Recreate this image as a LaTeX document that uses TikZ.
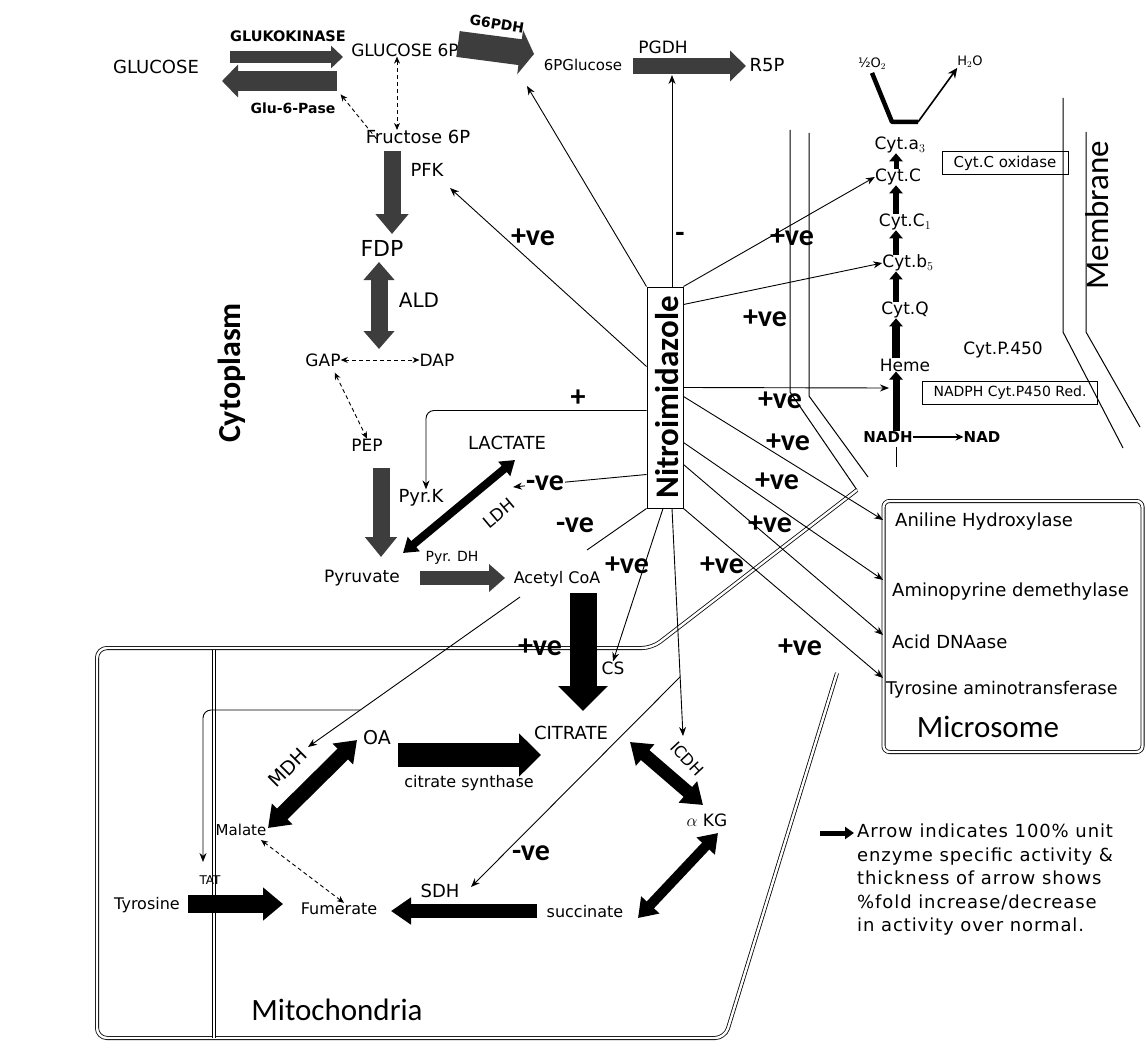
\documentclass[tikz,border=0pt]{standalone}
\usepackage{fontspec}
\setmainfont{DejaVu Sans}
\newfontfamily\carl{Carlito}
\usetikzlibrary{arrows.meta,calc}
\newcommand{\fsz}[1]{\fontsize{#1}{#1}\selectfont}
\definecolor{dg}{gray}{0.24}
\begin{document}
\begin{tikzpicture}[x=1pt,y=-1pt,
  lab/.style={inner sep=0pt, font=\fsz{17}},
  pm/.style={inner sep=0pt, font=\carl\bfseries\fsz{30}},
  big/.style={inner sep=0pt, font=\carl\fsz{31}},
  con/.style={line width=0.9pt, -{Stealth[length=9pt,width=7pt]}},
  conn/.style={line width=0.9pt},
  dsh/.style={line width=0.9pt, dash pattern=on 4pt off 3pt, {Stealth[length=7pt,width=6pt]}-{Stealth[length=7pt,width=6pt]}},
  blk/.style n args={3}{line width=#1pt, -{Triangle[length=#3pt,width=#2pt]}},
  dblk/.style n args={3}{line width=#1pt, {Triangle[length=#3pt,width=#2pt]}-{Triangle[length=#3pt,width=#2pt]}},
  dbl/.style={draw, line width=0.8pt, double=white, double distance=2.4pt, rounded corners=10pt},
  mem/.style={line width=1pt},
  chn/.style={line width=#1pt, -{Triangle[length=8pt,width=13pt]}}
]
\fill[white] (0,0) rectangle (1147,1051);
\useasboundingbox (0,0) rectangle (1147,1051);

% ---------- membranes and compartments ----------
\draw[mem] (790,130) -- (790,392) -- (857,490);
\draw[mem] (809,133) -- (809,396) -- (868,477);
\draw[mem] (1063,98) -- (1063,332) -- (1123,448);
\draw[mem] (1086,132) -- (1086,332) -- (1140,427);
\draw[dbl] (857,490) -- (652,648) -- (97,648) -- (97,1038) -- (725,1038) -- (837,673);
\draw[dbl,sharp corners] (214,650) -- (214,1038);
\node[draw, line width=0.8pt, double=white, double distance=2.4pt, rounded corners=6pt,
      minimum width=259pt, minimum height=251pt, inner sep=0pt] (micro) at (1013,626.5) {};

% ---------- glycolysis / pentose labels ----------
\node[lab,font=\fsz{18}] (glc) at (156,67) {GLUCOSE};
\node[lab,font=\bfseries\fsz{14.5}] (gk) at (288,36) {GLUKOKINASE};
\node[lab] (g6p) at (405,50) {GLUCOSE 6P};
\node[lab,font=\bfseries\fsz{14}] (g6pase) at (293,108) {Glu-6-Pase};
\node[lab,font=\fsz{18}] (f6p) at (418,137) {Fructose 6P};
\node[lab,font=\fsz{18}] (pfk) at (427,170) {PFK};
\node[lab,font=\fsz{22}] (fdp) at (382,248) {FDP};
\node[lab,font=\fsz{20}] (ald) at (419,300) {ALD};
\node[lab] (gap) at (323,360) {GAP};
\node[lab] (dap) at (437,360) {DAP};
\node[lab] (pep) at (367,445) {PEP};
\node[lab,font=\fsz{18}] (lac) at (507,443) {LACTATE};
\node[lab,font=\fsz{18}] (pyrk) at (421,498) {Pyr.K};
\node[lab] (pyr) at (362,578) {Pyruvate};
\node[lab,font=\fsz{14}] (pdh) at (452,558) {Pyr. DH};
\node[lab,font=\fsz{16}] (acoa) at (557,579) {Acetyl CoA};
\node[lab,font=\bfseries\fsz{14},rotate=-9] (g6pdh) at (497,24) {G6PDH};
\node[lab,font=\fsz{15}] (pglc) at (583,65) {6PGlucose};
\node[lab] (pgdh) at (663,47) {PGDH};
\node[lab,font=\fsz{18}] (r5p) at (767,65) {R5P};
\node[lab,font=\fsz{17},rotate=40] (ldh) at (499,513) {LDH};

% ---------- mitochondria labels ----------
\node[lab,font=\fsz{19}] (oa) at (377,738) {OA};
\node[lab,font=\fsz{16}] (csyn) at (469,783) {citrate synthase};
\node[lab,font=\fsz{18}] (cit) at (571,733) {CITRATE};
\node[lab] (cs) at (613,668) {CS};
\node[lab,font=\fsz{19},rotate=45] (mdh) at (288,768) {MDH};
\node[lab,font=\fsz{15}] (mal) at (241,830) {Malate};
\node[lab,font=\fsz{12}] (tat) at (210,880) {TAT};
\node[lab,font=\fsz{16}] (tyr) at (147,905) {Tyrosine};
\node[lab,font=\fsz{16}] (fum) at (339,909) {Fumerate};
\node[lab,font=\fsz{18}] (sdh) at (440,891) {SDH};
\node[lab,font=\fsz{16}] (suc) at (585,912) {succinate};
\node[lab] (akg) at (707,820) {$\alpha$ KG};
\node[lab,font=\fsz{16},rotate=-47] (icdh) at (687,759) {ICDH};

% ---------- respiratory chain ----------
\node[lab,font=\fsz{13}] (o2) at (872,64) {½O$_2$};
\node[lab,font=\fsz{13}] (h2o) at (970,62) {H$_2$O};
\node[lab] (ca3) at (900,145) {Cyt.a$_3$};
\node[lab] (cc) at (898,177) {Cyt.C};
\node[lab] (cc1) at (905,222) {Cyt.C$_1$};
\node[lab] (cb5) at (908,263) {Cyt.b$_5$};
\node[lab] (cq) at (905,310) {Cyt.Q};
\node[lab] (heme) at (905,365) {Heme};
\node[lab,font=\bfseries\fsz{15}] (nadh) at (888,437) {NADH};
\node[lab,font=\bfseries\fsz{15}] (nad) at (982,437) {NAD};
\node[draw,line width=0.8pt,inner sep=0pt,minimum width=126pt,minimum height=23pt,font=\fsz{15}] (cox) at (1005,163) {Cyt.C oxidase};
\node[lab] (p450) at (1003,350) {Cyt.P.450};
\node[draw,line width=0.8pt,inner sep=0pt,minimum width=175pt,minimum height=23pt,font=\fsz{14}] (red) at (1010,393) {NADPH Cyt.P450 Red.};
\node[big,font=\carl\fsz{33},rotate=90] (memb) at (1097,215) {Membrane};

% ---------- microsome ----------
\node[lab,anchor=west,font=\fsz{18}] (ani) at (895,522) {Aniline Hydroxylase};
\node[lab,anchor=west,font=\fsz{18}] (amp) at (892,592) {Aminopyrine demethylase};
\node[lab,anchor=west,font=\fsz{18}] (dna) at (892,642) {Acid DNAase};
\node[lab,anchor=west,font=\fsz{17.5}] (tyra) at (886,690) {Tyrosine  aminotransferase};
\node[big] (mics) at (988,727) {Microsome};

% ---------- compartments ----------
\node[big,font=\carl\bfseries\fsz{32},rotate=90] (cyto) at (232,373) {Cytoplasm};
\node[big] (mito) at (337,1010) {Mitochondria};

% ---------- Nitroimidazole ----------
\node[draw,line width=1pt,minimum width=36pt,minimum height=221pt,inner sep=0pt] (nit) at (665,397.5) {};
\node[inner sep=0pt,rotate=90,font=\carl\bfseries\fsz{33}] (nittxt) at (667,397.5) {Nitroimidazole};

% ---------- named ends ----------
\coordinate (g6pdhT) at (527,86);
\coordinate (pgdhT) at (672,75);
\coordinate (pfkT) at (450,188);
\coordinate (hemeT) at (889,388);
\coordinate (ldhT) at (513,487);
\coordinate (mdhA) at (587,550);
\coordinate (mdhB) at (520,597);
\coordinate (mdhT) at (308,747);
\coordinate (tatB) at (360,710);
\coordinate (tatT) at (203,862);
\coordinate (icdhS) at ([xshift=7pt]nit.south);
\coordinate (icdhT) at (683,736);
\coordinate (sdhT) at (471,887);
\coordinate (chx) at (896,0);

% ---------- Nitroimidazole effects ----------
\draw[con] (nit.north west) -- (g6pdhT);
\draw[con] ([xshift=7pt]nit.north) -- (pgdhT);
\draw[con] ([yshift=-80pt]nit.north west) -- (pfkT);
\draw[con] (nit.north east) -- (cc.west);
\draw[con] ([yshift=-18pt]nit.north east) -- (cb5.west);
\draw[con] ([yshift=-101pt]nit.north east) -- (hemeT);
\draw[con] ([yshift=-110pt]nit.north east) -- ([yshift=2pt]ani.west -| micro.west);
\draw[con] ([yshift=-156pt]nit.north east) -- ([yshift=12pt]amp.west -| micro.west);
\draw[con] ([yshift=-178pt]nit.north east) -- ([yshift=7pt]dna.west -| micro.west);
\draw[con] (nit.south east) -- ([yshift=12pt]tyra.west -| micro.west);
\draw[con,rounded corners=8pt] ([yshift=-124pt]nit.north west) -| ([xshift=5pt]pyrk.north);
\draw[con] ([yshift=-188pt]nit.north west) -- (ldhT);
\draw[conn] (nit.south west) -- (mdhA);
\draw[con] (mdhB) -- (mdhT);
\draw[con,rounded corners=8pt] (tatB) -| (tatT);
\draw[con] ([xshift=-2pt]nit.south) -- (cs.north);
\draw[con] (icdhS) -- (icdhT);
\draw[con] ($(icdhS)!0.74!(icdhT)$) -- (sdhT);

% ---------- effect signs ----------
\node[pm] (s1) at (533,237) {+ve};
\node[pm] (s2) at (680,237) {-};
\node[pm] (s3) at (792,237) {+ve};
\node[pm] (s4) at (765,318) {+ve};
\node[pm] (s5) at (578,398) {+};
\node[pm] (s6) at (780,400) {+ve};
\node[pm] (s7) at (788,442) {+ve};
\node[pm] (s8) at (777,481) {+ve};
\node[pm,fill=white,inner sep=1pt] (s9) at (545,483) {-ve};
\node[pm] (s10) at (770,524) {+ve};
\node[pm] (s11) at (575,525) {-ve};
\node[pm] (s12) at (627,565) {+ve};
\node[pm] (s13) at (722,565) {+ve};
\node[pm] (s14) at (540,647) {+ve};
\node[pm] (s15) at (800,647) {+ve};
\node[pm] (s16) at (531,853) {-ve};

% ---------- glycolysis arrows ----------
\coordinate (gkA) at (230,57); \coordinate (gkB) at (343,57);
\coordinate (gpA) at (337,81); \coordinate (gpB) at (222,81);
\coordinate (g6A) at (458,44); \coordinate (g6B) at (534,54);
\coordinate (pgA) at (633,66); \coordinate (pgB) at (746,66);
\coordinate (pfA) at (392,151); \coordinate (pfB) at (392,234);
\coordinate (alA) at (379,262); \coordinate (alB) at (379,349);
\coordinate (ppA) at (381,468); \coordinate (ppB) at (381,557);
\coordinate (ldA) at (403,553); \coordinate (ldB) at (515,460);
\coordinate (pdA) at (420,578); \coordinate (pdB) at (505,578);
\draw[dg,blk={12}{22}{12}] (gkA) -- (gkB);
\draw[dg,blk={20}{32}{16}] (gpA) -- (gpB);
\draw[dg,blk={26}{44}{14}] (g6A) -- (g6B);
\draw[dg,blk={16}{30}{16}] (pgA) -- (pgB);
\draw[dg,blk={17}{32}{20}] (pfA) -- (pfB);
\draw[dg,dblk={17}{30}{18}] (alA) -- (alB);
\draw[dg,blk={17}{31}{20}] (ppA) -- (ppB);
\draw[black,dblk={8}{18}{14}] (ldA) -- (ldB);
\draw[dg,blk={14}{27}{16}] (pdA) -- (pdB);
\draw[dsh] ([xshift=-8pt]g6p.south) -- ([xshift=-21pt]f6p.north);
\draw[line width=0.9pt, dash pattern=on 4pt off 3pt, -{Stealth[length=7pt,width=6pt]}] ([xshift=11pt,yshift=-9pt]f6p.north west) -- ([xshift=5pt,yshift=8pt]g6pase.north east);
\draw[dsh] (gap.east) -- (dap.west);
\draw[dsh] ([xshift=-6pt,yshift=-6pt]gap.south east) -- (pep.north);

% ---------- TCA arrows ----------
\coordinate (csA) at (583,593); \coordinate (csB) at (583,711);
\coordinate (ocA) at (398,755); \coordinate (ocB) at (541,755);
\coordinate (mdA) at (357,740); \coordinate (mdB) at (268,828);
\coordinate (tyA) at (188,904); \coordinate (tyB) at (283,904);
\coordinate (sdA) at (537,911); \coordinate (sdB) at (391,911);
\coordinate (icA) at (630,742); \coordinate (icB) at (703,805);
\coordinate (suA) at (638,918); \coordinate (suB) at (718,833);
\draw[blk={27}{48}{25}] (csA) -- (csB);
\draw[blk={24}{42}{22}] (ocA) -- (ocB);
\draw[dblk={15}{28}{20}] (mdA) -- (mdB);
\draw[blk={18}{32}{20}] (tyA) -- (tyB);
\draw[blk={14}{26}{20}] (sdA) -- (sdB);
\draw[dblk={13}{27}{20}] (icA) -- (icB);
\draw[dblk={10}{24}{18}] (suA) -- (suB);
\draw[dsh] ([xshift=20pt,yshift=-4pt]mal.south) -- ([xshift=5pt]fum.north);

% ---------- respiratory chain arrows ----------
\draw[chn=7] (nadh.north -| chx) -- (heme.south -| chx);
\draw[chn=8] (heme.north -| chx) -- (cq.south -| chx);
\draw[chn=6] (cq.north -| chx) -- (cb5.south -| chx);
\draw[chn=6] (cb5.north -| chx) -- (cc1.south -| chx);
\draw[chn=6] (cc1.north -| chx) -- (cc.south -| chx);
\draw[chn=5] (cc.north -| chx) -- (ca3.south -| chx);
\draw[line width=1.4pt,-{Stealth[length=8pt,width=7pt]}] (nadh.east) -- (nad.west);
\draw[line width=1pt] ([yshift=-4pt]nadh.south -| chx) -- ([yshift=-24pt]nadh.south -| chx);
\coordinate (vL) at (892,122); \coordinate (vR) at (918,122);
\draw[line width=4.5pt,line join=round] ([yshift=-3pt]o2.south) -- (vL) -- (vR);
\draw[line width=1.6pt,-{Stealth[length=10pt,width=9pt]}] (vR) -- (h2o.south west);

% ---------- legend ----------
\node[inner sep=0pt,anchor=north west,align=left,font=\fontsize{18}{23.5}\selectfont\addfontfeature{LetterSpace=5}] (legend) at (857,824)
 {Arrow  indicates 100\% unit\\ enzyme specific activity \&\\ thickness of arrow shows\\ \%fold increase/decrease\\ in activity over normal.};
\coordinate (lgA) at (820,833);
\draw[blk={5}{12}{9}] (lgA) -- ([xshift=-3pt,yshift=-9pt]legend.north west);
\end{tikzpicture}
\end{document}
